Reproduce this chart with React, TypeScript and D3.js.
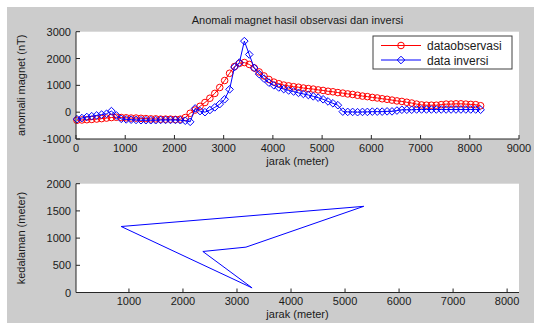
import React from "react";
import * as d3 from "d3";

const jarak = [20,120,220,320,420,520,620,720,820,920,1020,1120,1220,1320,1420,1520,1620,1720,1820,1920,2020,2120,2220,2320,2420,2520,2620,2720,2820,2920,3020,3120,3220,3320,3420,3520,3620,3720,3820,3920,4020,4120,4220,4320,4420,4520,4620,4720,4820,4920,5020,5120,5220,5320,5420,5520,5620,5720,5820,5920,6020,6120,6220,6320,6420,6520,6620,6720,6820,6920,7020,7120,7220,7320,7420,7520,7620,7720,7820,7920,8020,8120,8220];

const dataObservasi = [-300,-290,-280,-270,-255,-240,-220,-200,-190,-200,-210,-220,-220,-230,-240,-250,-250,-260,-260,-260,-270,-260,-200,-40,80,220,360,520,700,920,1180,1450,1700,1820,1850,1780,1650,1500,1350,1220,1120,1060,1010,980,950,930,900,880,860,830,810,780,760,730,710,680,660,630,600,580,550,530,500,480,450,420,400,370,340,300,270,260,260,260,280,300,300,310,310,300,290,280,240];

const dataInversi = [-260,-220,-180,-150,-120,-90,-60,40,-120,-250,-270,-280,-290,-300,-300,-300,-300,-290,-290,-290,-290,-300,-320,-360,140,40,0,80,180,300,480,850,1680,1850,2650,2150,1650,1420,1250,1100,1000,920,860,810,770,720,680,640,590,540,480,400,330,260,20,10,10,0,10,10,20,20,20,30,30,60,90,90,90,100,100,100,100,100,100,100,100,100,100,100,100,100,90];

const bodyX = [5346, 856, 3279, 2368, 3166, 5346];
const bodyZ = [1584, 1213, 85, 754, 834, 1584];

const topXTicks = [0,1000,2000,3000,4000,5000,6000,7000,8000,9000];
const topYTicks = [-1000,0,1000,2000,3000];
const botXTicks = [1000,2000,3000,4000,5000,6000,7000,8000];
const botYTicks = [0,500,1000,1500,2000];

const FONT = "'Liberation Sans', Arial, sans-serif";
const TXT = "#1a1a1a";

function diamond(cx: number, cy: number, r: number) {
  return `M${cx},${cy - r}L${cx + r},${cy}L${cx},${cy + r}L${cx - r},${cy}Z`;
}

export default function App() {
  const L = 76, R = 519;
  const t1 = 31.7, b1 = 139;
  const t2 = 183.7, b2 = 292.5;

  const x1 = d3.scaleLinear().domain([0, 9000]).range([L, R]);
  const y1 = d3.scaleLinear().domain([-1000, 3000]).range([b1, t1]);
  const x2 = d3.scaleLinear().domain([20, 8220]).range([L, R]);
  const y2 = d3.scaleLinear().domain([0, 2000]).range([b2, t2]);

  const obsPath = d3.line<number>().x((_, i) => x1(jarak[i])).y((d) => y1(d))(dataObservasi) || "";
  const invPath = d3.line<number>().x((_, i) => x1(jarak[i])).y((d) => y1(d))(dataInversi) || "";
  const bodyPath = d3.line<number>().x((d) => x2(d)).y((_, i) => y2(bodyZ[i]))(bodyX) || "";

  const red = "#ff0000";
  const blue = "#0000ff";

  return (
    <svg width={534} height={323} style={{ position: "absolute", left: 0, top: 0 }} fontFamily={FONT}>
      <rect x={0} y={0} width={534} height={323} fill="#ffffff" />
      <rect x={7} y={7} width={527} height={316} fill="#cccccc" />

      {/* top axes */}
      <rect x={L} y={t1} width={R - L} height={b1 - t1} fill="#ffffff" />
      <text x={(L + R) / 2} y={24} textAnchor="middle" fontSize={11} fill={TXT}>Anomali magnet hasil observasi dan inversi</text>
      <g>
        <path d={obsPath} fill="none" stroke={red} strokeWidth={1} />
        {dataObservasi.map((d, i) => (
          <circle key={"o" + i} cx={x1(jarak[i])} cy={y1(d)} r={3.3} fill="none" stroke={red} strokeWidth={1} />
        ))}
        <path d={invPath} fill="none" stroke={blue} strokeWidth={1} />
        {dataInversi.map((d, i) => (
          <path key={"v" + i} d={diamond(x1(jarak[i]), y1(d), 3.8)} fill="none" stroke={blue} strokeWidth={1} />
        ))}
      </g>
      <line x1={L} x2={L} y1={t1} y2={b1} stroke="#262626" />
      <line x1={L} x2={R} y1={b1} y2={b1} stroke="#262626" />
      {topXTicks.map((t) => (
        <g key={"tx" + t}>
          <line x1={x1(t)} x2={x1(t)} y1={b1} y2={b1 - 4} stroke="#262626" />
          <text x={x1(t)} y={b1 + 13} textAnchor="middle" fontSize={11} fill={TXT}>{t}</text>
        </g>
      ))}
      {topYTicks.map((t) => (
        <g key={"ty" + t}>
          <line x1={L} x2={L + 4} y1={y1(t)} y2={y1(t)} stroke="#262626" />
          <text x={L - 5} y={y1(t) + 4} textAnchor="end" fontSize={11} fill={TXT}>{t}</text>
        </g>
      ))}
      <text x={(L + R) / 2} y={164.5} textAnchor="middle" fontSize={11} fill={TXT}>jarak (meter)</text>
      <text transform={`translate(25,${(t1 + b1) / 2}) rotate(-90)`} textAnchor="middle" fontSize={11} fill={TXT}>anomali magnet (nT)</text>

      {/* legend */}
      <rect x={373} y={36} width={139} height={33} fill="#ffffff" stroke="#404040" strokeWidth={1} />
      <line x1={381} x2={421} y1={45.5} y2={45.5} stroke={red} />
      <circle cx={401} cy={45.5} r={3.3} fill="none" stroke={red} />
      <text x={427} y={50} fontSize={12} fill={TXT}>dataobservasi</text>
      <line x1={381} x2={421} y1={60} y2={60} stroke={blue} />
      <path d={diamond(401, 60, 3.8)} fill="none" stroke={blue} />
      <text x={427} y={64.5} fontSize={12} fill={TXT}>data inversi</text>

      {/* bottom axes */}
      <rect x={L} y={t2} width={R - L} height={b2 - t2} fill="#ffffff" />
      <path d={bodyPath} fill="none" stroke={blue} strokeWidth={1} />
      <line x1={L} x2={L} y1={t2} y2={b2} stroke="#262626" />
      <line x1={L} x2={R} y1={b2} y2={b2} stroke="#262626" />
      {botXTicks.map((t) => (
        <g key={"bx" + t}>
          <line x1={x2(t)} x2={x2(t)} y1={b2} y2={b2 - 4} stroke="#262626" />
          <text x={x2(t)} y={b2 + 12.5} textAnchor="middle" fontSize={11} fill={TXT}>{t}</text>
        </g>
      ))}
      {botYTicks.map((t) => (
        <g key={"by" + t}>
          <line x1={L} x2={L + 4} y1={y2(t)} y2={y2(t)} stroke="#262626" />
          <text x={L - 5} y={y2(t) + 4} textAnchor="end" fontSize={11} fill={TXT}>{t}</text>
        </g>
      ))}
      <text x={(L + R) / 2} y={318} textAnchor="middle" fontSize={11} fill={TXT}>jarak (meter)</text>
      <text transform={`translate(25,${(t2 + b2) / 2}) rotate(-90)`} textAnchor="middle" fontSize={11} fill={TXT}>kedalaman (meter)</text>
    </svg>
  );
}
